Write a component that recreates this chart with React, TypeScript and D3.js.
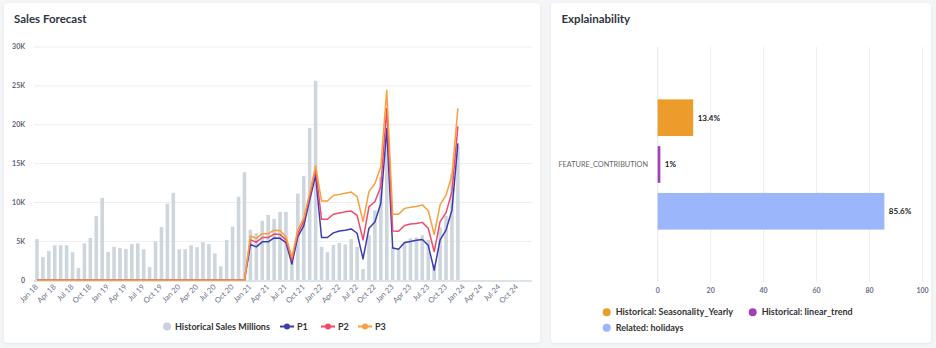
import React from 'react';
import * as d3 from 'd3';

const W = 936;
const H = 348;
const FONT = 'Lato, "Noto Sans", sans-serif';

const monthNames = ['Jan', 'Feb', 'Mar', 'Apr', 'May', 'Jun', 'Jul', 'Aug', 'Sep', 'Oct', 'Nov', 'Dec'];
const years = ['18', '19', '20', '21', '22', '23', '24'];
const months = years.flatMap((y) => monthNames.map((m) => `${m} ${y}`));
const tickLabels = months.filter((_, i) => i % 3 === 0);
const yTicks = [0, 5000, 10000, 15000, 20000, 25000, 30000];

// Historical sales (K), Jan 18 – Dec 23
const historicalSales = [
  5.3, 3.0, 3.75, 4.5, 4.5, 4.5, 3.6, 1.6, 4.75, 5.45, 8.25, 10.6,
  3.65, 4.3, 4.15, 4.05, 4.65, 4.75, 4.0, 1.7, 5.0, 6.85, 9.85, 11.25,
  4.0, 4.0, 4.5, 4.25, 4.9, 4.65, 3.45, 1.8, 5.2, 6.9, 10.75, 13.9,
  6.5, 6.05, 7.65, 8.4, 7.9, 8.8, 8.8, 2.5, 11.15, 13.4, 19.6, 25.65,
  4.3, 3.6, 4.55, 4.8, 4.6, 5.3, 4.3, 1.45, 5.8, 9.0, 13.3, 19.0,
  4.3, 3.9, 4.9, 5.4, 5.5, 5.8, 5.2, 2.0, 6.8, 8.3, 13.7, 17.2,
];

// Forecast series (K), Jan 18 – Dec 23
const p1 = [
  0, 0, 0, 0, 0, 0, 0, 0, 0, 0, 0, 0,
  0, 0, 0, 0, 0, 0, 0, 0, 0, 0, 0, 0,
  0, 0, 0, 0, 0, 0, 0, 0, 0, 0, 0, 0,
  4.6, 4.3, 4.95, 4.95, 5.45, 5.4, 4.85, 2.1, 5.6, 7.0, 10.3, 13.5,
  5.5, 5.5, 6.1, 6.35, 6.45, 6.6, 6.05, 2.75, 6.7, 7.5, 9.9, 19.5,
  4.15, 4.0, 4.85, 5.0, 5.15, 5.25, 4.5, 1.3, 5.2, 6.45, 9.05, 17.6,
];
const p2 = [
  0, 0, 0, 0, 0, 0, 0, 0, 0, 0, 0, 0,
  0, 0, 0, 0, 0, 0, 0, 0, 0, 0, 0, 0,
  0, 0, 0, 0, 0, 0, 0, 0, 0, 0, 0, 0,
  5.2, 4.9, 5.5, 5.5, 5.95, 5.9, 5.2, 2.6, 6.0, 7.6, 10.8, 14.3,
  7.85, 7.85, 8.5, 8.65, 8.8, 8.9, 8.35, 5.2, 9.45, 10.1, 12.05, 22.1,
  6.35, 6.3, 7.05, 7.25, 7.3, 7.45, 6.7, 3.7, 7.55, 8.7, 11.4, 19.8,
];
const p3 = [
  0, 0, 0, 0, 0, 0, 0, 0, 0, 0, 0, 0,
  0, 0, 0, 0, 0, 0, 0, 0, 0, 0, 0, 0,
  0, 0, 0, 0, 0, 0, 0, 0, 0, 0, 0, 0,
  5.7, 5.4, 6.0, 6.0, 6.45, 6.4, 5.6, 3.0, 6.5, 8.0, 11.2, 14.7,
  10.2, 10.2, 10.9, 11.05, 11.2, 11.35, 10.75, 7.55, 11.4, 12.45, 14.6, 24.45,
  8.5, 8.5, 9.25, 9.4, 9.5, 9.7, 8.95, 5.9, 9.7, 10.95, 13.5, 22.1,
];

const forecastNames = ['P1', 'P2', 'P3'];
const forecastColors = ['#3c3cb2', '#ef4a6b', '#f9a03c'];

// Explainability
const featureCategory = ['FEATURE_CONTRIBUTION'];
const featureNames = ['Historical: Seasonality_Yearly', 'Historical: linear_trend', 'Related: holidays'];
const featureValues = [13.4, 1, 85.6];
const featureColors = ['#ec9c2a', '#a33fba', '#9bb6fb'];
const xTicksRight = [0, 20, 40, 60, 80, 100];

export default function App() {
  // Left chart scales
  const x = d3.scaleBand<string>().domain(months).range([34, 532]).paddingInner(0.4).paddingOuter(0.2);
  const y = d3.scaleLinear().domain([0, 30000]).range([280.3, 47]);
  const cx = (i: number) => (x(months[i]) as number) + x.bandwidth() / 2;
  const line = d3
    .line<number>()
    .x((_, i) => cx(i))
    .y((d) => y(d * 1000));
  const series = [p1, p2, p3];

  // Right chart scales
  const xr = d3.scaleLinear().domain([0, 100]).range([657.7, 922.5]);
  const yOuter = d3.scaleBand<string>().domain(featureCategory).range([47, 282]);
  const yInner = d3
    .scaleBand<string>()
    .domain(featureNames)
    .range([0, yOuter.bandwidth()])
    .paddingInner(0.216)
    .paddingOuter(1.12);

  const legendLeft = [
    { name: 'Historical Sales Millions', x: 167, kind: 'dot', color: '#c9d2da' },
    { name: forecastNames[0], x: 287, kind: 'line', color: forecastColors[0] },
    { name: forecastNames[1], x: 328, kind: 'line', color: forecastColors[1] },
    { name: forecastNames[2], x: 365, kind: 'line', color: forecastColors[2] },
  ];
  const legendRight = [
    { x: 606.7, y: 312.3 },
    { x: 752.7, y: 312.3 },
    { x: 606.7, y: 327.7 },
  ];

  return (
    <div style={{ position: 'fixed', left: 0, top: 0, width: W, height: H }}>
      <svg width={W} height={H} style={{ display: 'block', fontFamily: FONT }}>
        <defs>
          <filter id="shadow" x="-5%" y="-5%" width="110%" height="110%">
            <feDropShadow dx="0" dy="1" stdDeviation="1.5" floodColor="#000" floodOpacity="0.07" />
          </filter>
        </defs>
        <rect x={0} y={0} width={W} height={H} fill="#f4f5f7" />
        <rect x={4} y={3} width={536} height={340} rx={4} fill="#fff" filter="url(#shadow)" />
        <rect x={551} y={3} width={380} height={340} rx={4} fill="#fff" filter="url(#shadow)" />

        {/* Left chart */}
        <text x={14} y={23} fontSize={11.5} fontWeight={700} fill="#2f3542">
          Sales Forecast
        </text>
        {yTicks.map((t) => (
          <g key={t}>
            {t > 0 && <line x1={34} x2={532} y1={y(t)} y2={y(t)} stroke="#eceef2" strokeWidth={1} />}
            <text x={25} y={y(t)} dy="0.32em" textAnchor="end" fontSize={7} fontWeight={700} fill="#5d6478">
              {t === 0 ? '0' : `${t / 1000}K`}
            </text>
          </g>
        ))}
        {historicalSales.map((v, i) => (
          <rect
            key={i}
            x={x(months[i])}
            y={y(v * 1000)}
            width={x.bandwidth()}
            height={y(0) - y(v * 1000)}
            fill="#cdd5dd"
          />
        ))}
        <line x1={34} x2={532} y1={y(0) + 0.8} y2={y(0) + 0.8} stroke="#dde3ea" strokeWidth={2} />
        {series.map((s, k) => (
          <path key={k} d={line(s) || ''} fill="none" stroke={forecastColors[k]} strokeWidth={1.5} strokeLinejoin="round" />
        ))}
        {tickLabels.map((lab) => {
          const xi = cx(months.indexOf(lab));
          return (
            <text
              key={lab}
              transform={`translate(${xi + 1.5},${287.5}) rotate(-45)`}
              textAnchor="end"
              fontSize={7.6}
              fill="#6b7285"
            >
              {lab}
            </text>
          );
        })}
        {legendLeft.map((l) => (
          <g key={l.name}>
            {l.kind === 'dot' ? (
              <circle cx={l.x} cy={326.5} r={4} fill={l.color} />
            ) : (
              <g>
                <line x1={l.x - 7} x2={l.x + 7} y1={326.5} y2={326.5} stroke={l.color} strokeWidth={2} />
                <circle cx={l.x} cy={326.5} r={3} fill={l.color} />
              </g>
            )}
            <text x={l.x + (l.kind === 'dot' ? 8 : 10)} y={326.5} dy="0.35em" fontSize={9} fontWeight={700} fill="#333">
              {l.name}
            </text>
          </g>
        ))}

        {/* Right chart */}
        <text x={561.5} y={23} fontSize={11.5} fontWeight={700} fill="#2f3542">
          Explainability
        </text>
        {xTicksRight.map((t) => (
          <g key={t}>
            <line x1={xr(t)} x2={xr(t)} y1={47} y2={282} stroke={t === 0 ? '#dfe4ee' : '#eceef2'} strokeWidth={1} />
            <text x={xr(t)} y={291} dy="0.32em" textAnchor="middle" fontSize={7} fontWeight={700} fill="#6b7290">
              {t}
            </text>
          </g>
        ))}
        {featureCategory.map((c) => (
          <text
            key={c}
            x={648}
            y={(yOuter(c) as number) + yOuter.bandwidth() / 2}
            dy="0.35em"
            textAnchor="end"
            fontSize={7.3}
            fill="#666"
          >
            {c}
          </text>
        ))}
        {featureNames.map((n, i) => {
          const by = (yOuter(featureCategory[0]) as number) + (yInner(n) as number);
          return (
            <g key={n}>
              <rect x={xr(0)} y={by} width={xr(featureValues[i]) - xr(0)} height={yInner.bandwidth()} fill={featureColors[i]} />
              <text
                x={xr(featureValues[i]) + 4.5}
                y={by + yInner.bandwidth() / 2}
                dy="0.35em"
                fontSize={8}
                fontWeight={700}
                fill="#222"
              >
                {`${featureValues[i]}%`}
              </text>
            </g>
          );
        })}
        {featureNames.map((n, i) => (
          <g key={n}>
            <circle cx={legendRight[i].x} cy={legendRight[i].y} r={4} fill={featureColors[i]} />
            <text x={legendRight[i].x + 9} y={legendRight[i].y} dy="0.35em" fontSize={9} fontWeight={700} fill="#333">
              {n}
            </text>
          </g>
        ))}
      </svg>
    </div>
  );
}
